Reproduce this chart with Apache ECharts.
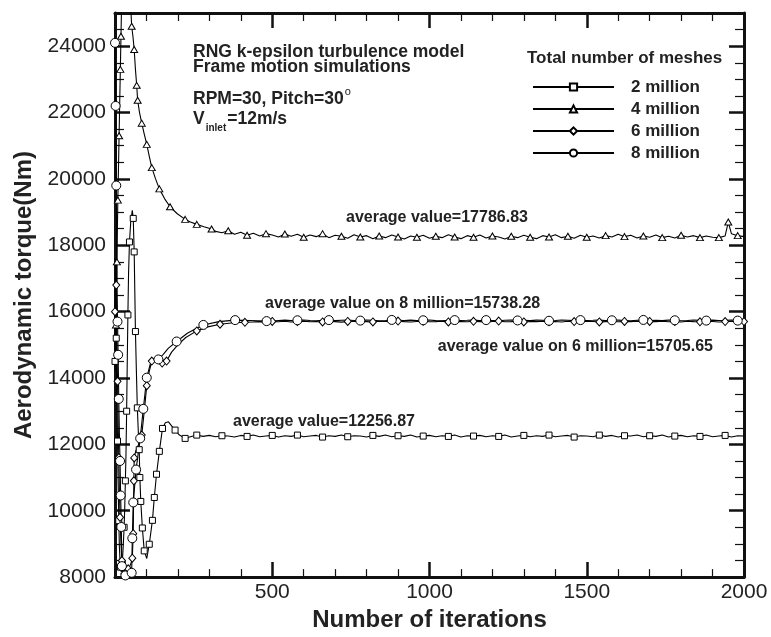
<!DOCTYPE html>
<html><head><meta charset="utf-8">
<script src="https://cdn.jsdelivr.net/npm/echarts@6/dist/echarts.min.js"></script>
<style>html,body{margin:0;padding:0;background:#fff}#c{width:771px;height:637px}</style>
</head><body><div id="c"></div>
<script>
const FONT = '"Liberation Sans", Arial, Helvetica, sans-serif';

// ---- data: [iteration, torque (Nm)] ----
const mesh2M = [
[0,14500],[2,16200],[4,15200],[6,13600],[8,12100],[10,10800],[12,9700],[14,8900],[17,8300],[20,8150],[23,8400],[26,8900],[29,9500],[31,10100],[33,10900],[35,11740],[37,13000],[39,14500],[41,15900],[43,17100],[46,18100],[50,18700],[55,19050],[58,18810],[61,17800],[63,16600],[65,15400],[68,14200],[71,13100],[74,12400],[77,11840],[79,11000],[82,10280],[87,9480],[93,8790],[101,8560],[109,8990],[119,9710],[125,10400],[132,11100],[141,11790],[151,12480],[160,12650],[170,12680],[180,12560],[191,12430],[205,12280],[223,12180],[240,12230],[260,12280],
[280,12240],[300,12270],[320,12230],[340,12260],[360,12250],[380,12220],[400,12270],[420,12240],[440,12280],[460,12230],[480,12250],[500,12270],[520,12220],[540,12260],[560,12240],[580,12280],[600,12230],[620,12250],[640,12270],[660,12220],[680,12260],[700,12240],[720,12280],[740,12230],[760,12260],[780,12250],[800,12220],[820,12270],[840,12240],[860,12280],[880,12230],[900,12260],[920,12240],[940,12280],[960,12220],[980,12250],[1000,12270],[1020,12230],[1040,12260],[1060,12240],[1080,12280],[1100,12220],[1120,12260],[1140,12250],[1160,12270],[1180,12230],[1200,12260],[1220,12240],[1240,12280],[1260,12220],[1280,12250],[1300,12270],[1320,12230],[1340,12260],[1360,12240],[1380,12280],[1400,12230],[1420,12250],[1440,12270],[1460,12220],[1480,12260],[1500,12250],[1520,12230],[1540,12280],[1560,12240],[1580,12270],[1600,12220],[1620,12260],[1640,12250],[1660,12280],[1680,12230],[1700,12260],[1720,12240],[1740,12280],[1760,12220],[1780,12250],[1800,12270],[1820,12230],[1840,12260],[1860,12240],[1880,12280],[1900,12230],[1920,12250],[1940,12270],[1960,12220],[1980,12260],[2000,12250]
];
const marks2M = [0,4,8,12,17,23,29,33,37,41,46,58,61,65,71,77,79,82,87,93,109,119,125,132,141,151,191,223,260,340,420,500,580,660,740,820,900,980,1060,1140,1220,1300,1380,1460,1540,1620,1700,1780,1860,1940];

const mesh4M = [
[0,14200],[3,15600],[6,17500],[9,19360],[11,20300],[13,21300],[15,22300],[17,23300],[19,24300],[21,25300],[24,26800],[30,28000],[38,27600],[45,26200],[50,25200],[53,24600],[57,24300],[61,23900],[65,23300],[69,22820],[72,22370],[78,22000],[85,21680],[93,21350],[101,21040],[109,20680],[117,20340],[129,20000],[141,19700],[158,19400],[175,19160],[198,18950],[223,18780],[240,18700],[260,18630],[283,18560],[307,18490],
[320,18420],[340,18380],[360,18440],[380,18330],[400,18390],[420,18300],[440,18360],[460,18280],[480,18350],[500,18310],[520,18250],[540,18340],[560,18270],[580,18330],[600,18240],[620,18310],[640,18260],[660,18350],[680,18230],[700,18300],[720,18270],[740,18210],[760,18320],[780,18250],[800,18290],[820,18200],[840,18280],[860,18230],[880,18310],[900,18250],[920,18190],[940,18280],[960,18240],[980,18300],[1000,18210],[1020,18270],[1040,18230],[1060,18320],[1080,18250],[1100,18200],[1120,18290],[1140,18240],[1160,18310],[1180,18220],[1200,18280],[1220,18250],[1240,18190],[1260,18270],[1280,18230],[1300,18300],[1320,18240],[1340,18200],[1360,18290],[1380,18250],[1400,18320],[1420,18230],[1440,18270],[1460,18210],[1480,18300],[1500,18240],[1520,18280],[1540,18220],[1560,18290],[1580,18250],[1600,18330],[1620,18260],[1640,18300],[1660,18220],[1680,18280],[1700,18240],[1720,18310],[1740,18230],[1760,18270],[1780,18220],[1800,18300],[1820,18250],[1840,18290],[1860,18230],[1880,18280],[1900,18240],[1920,18230],[1940,18280],[1950,18700],[1960,18350],[1980,18290],[2000,18260]
];
const marks4M = [3,6,9,13,17,19,53,61,69,72,85,101,117,141,175,223,260,307,360,420,480,540,600,660,720,780,840,900,960,1020,1080,1140,1200,1260,1320,1380,1440,1500,1560,1620,1680,1740,1800,1860,1920,1950,1980];

const mesh6M = [
[0,16000],[2,17600],[4,16800],[6,15200],[8,13900],[10,12700],[12,11600],[14,10600],[16,9800],[19,9000],[22,8500],[26,8200],[30,8100],[36,8150],[42,8250],[48,8350],[52,8450],[55,8570],[58,9310],[59,10200],[60,10900],[61,11590],[66,11800],[75,12000],[85,12280],[93,13000],[101,13770],[109,14200],[117,14510],[128,14620],[140,14560],[150,14450],[164,14510],[180,14780],[200,15000],[225,15220],[260,15420],[295,15540],[334,15620],[370,15660],[413,15680],
[440,15690],[460,15700],[480,15685],[500,15705],[520,15695],[540,15710],[560,15690],[580,15700],[600,15715],[620,15695],[640,15705],[660,15690],[680,15710],[700,15700],[720,15685],[740,15705],[760,15715],[780,15695],[800,15700],[820,15690],[840,15710],[860,15705],[880,15695],[900,15715],[920,15700],[940,15690],[960,15705],[980,15710],[1000,15695],[1020,15700],[1040,15715],[1060,15690],[1080,15705],[1100,15700],[1120,15695],[1140,15710],[1160,15700],[1180,15690],[1200,15705],[1220,15715],[1240,15695],[1260,15700],[1280,15710],[1300,15690],[1320,15705],[1340,15700],[1360,15715],[1380,15695],[1400,15705],[1420,15690],[1440,15710],[1460,15700],[1480,15695],[1500,15715],[1520,15705],[1540,15690],[1560,15700],[1580,15710],[1600,15695],[1620,15705],[1640,15700],[1660,15715],[1680,15690],[1700,15705],[1720,15700],[1740,15710],[1760,15695],[1780,15705],[1800,15690],[1820,15710],[1840,15700],[1860,15695],[1880,15715],[1900,15705],[1920,15690],[1940,15700],[1960,15710],[1980,15695],[2000,15700]
];
const marks6M = [0,4,8,12,16,22,30,42,55,58,60,61,85,101,117,150,164,260,334,413,500,580,660,740,820,900,980,1060,1140,1220,1300,1380,1460,1540,1620,1700,1780,1860,1940,2000];

const mesh8M = [
[0,24100],[2,22200],[4,19800],[6,17400],[8,15700],[10,14700],[12,13370],[14,12300],[16,11500],[18,10460],[20,9510],[22,8330],[26,8100],[33,8050],[40,8100],[47,8060],[53,8130],[55,9170],[58,10250],[67,11240],[80,12180],[90,13070],[101,14010],[112,14420],[125,14560],[138,14560],[152,14700],[170,14900],[196,15100],[230,15350],[255,15480],[281,15600],[330,15700],[382,15745],[430,15730],[482,15715],
[500,15720],[520,15735],[540,15745],[560,15730],[580,15740],[600,15750],[620,15735],[640,15725],[660,15740],[680,15745],[700,15730],[720,15740],[740,15750],[760,15735],[780,15730],[800,15745],[820,15740],[840,15725],[860,15735],[880,15750],[900,15740],[920,15730],[940,15745],[960,15735],[980,15740],[1000,15750],[1020,15730],[1040,15725],[1060,15740],[1080,15745],[1100,15735],[1120,15740],[1140,15750],[1160,15730],[1180,15745],[1200,15735],[1220,15725],[1240,15740],[1260,15750],[1280,15735],[1300,15740],[1320,15730],[1340,15745],[1360,15740],[1380,15725],[1400,15735],[1420,15750],[1440,15740],[1460,15730],[1480,15745],[1500,15735],[1520,15740],[1540,15750],[1560,15730],[1580,15740],[1600,15745],[1620,15735],[1640,15725],[1660,15740],[1680,15750],[1700,15735],[1720,15740],[1740,15730],[1760,15745],[1780,15740],[1800,15725],[1820,15735],[1840,15750],[1860,15740],[1880,15730],[1900,15745],[1920,15735],[1940,15740],[1960,15750],[1980,15730],[2000,15740]
];
const marks8M = [0,2,4,8,10,12,16,18,20,22,33,53,55,58,67,80,90,101,138,196,281,382,482,580,680,780,880,980,1080,1180,1280,1380,1480,1580,1680,1780,1880,1980];

const seriesNames = ['2 million','4 million','6 million','8 million'];
const xTicks = {min:0, max:2000, interval:500};
const yTicks = {min:8000, max:25000, interval:2000};

// ---- helpers ----
function buildData(points, marks){
  const set = new Set(marks);
  return points.map(p => set.has(p[0]) ? {value:p} : {value:p, symbol:'none'});
}
function mkSeries(name, points, marks, symbol, size){
  return {name, type:'line', data:buildData(points, marks), symbol, symbolSize:size,
    showAllSymbol:true, smooth:false, clip:true,
    lineStyle:{color:'#000', width:1.1},
    itemStyle:{color:'#fff', borderColor:'#000', borderWidth:1},
    emphasis:{disabled:true}, animation:false};
}
const mctx = document.createElement('canvas').getContext('2d');
function tw(text, font){ mctx.font = font; return mctx.measureText(text).width; }
function fnt(size, weight){ return (weight||'bold') + ' ' + size + 'px ' + FONT; }
function txt(text, x, y, size, weight, align){
  return {type:'text', x, y, silent:true, z:100,
    style:{text, font:fnt(size, weight), fill:'#222',
      textAlign:align||'left', align:align||'left', textVerticalAlign:'middle', verticalAlign:'middle'}};
}
const plain = v => String(v);

const axisCommon = {
  axisLine:{show:true, onZero:false, lineStyle:{color:'#111', width:3}},
  axisTick:{show:true, inside:true, length:15, lineStyle:{color:'#111', width:2.5}},
  splitLine:{show:false}, minorSplitLine:{show:false}
};

const f17 = fnt(17.5);
const pitchText = 'RPM=30, Pitch=30';
const wPitch = tw(pitchText, f17);
const wV = tw('V', f17);
const wInlet = tw('inlet', fnt(10));

const graphics = [
  txt('RNG k-epsilon turbulence model', 193, 52, 17.5),
  txt('Frame motion simulations', 193, 67.5, 17.5),
  txt(pitchText, 193, 99, 17.5),
  txt('o', 193 + wPitch + 1, 92, 11, 'normal'),
  txt('V', 193, 119, 17.5),
  txt('inlet', 193 + wV + 1, 128, 10),
  txt('=12m/s', 193 + wV + wInlet + 2, 119, 17.5),
  txt('Total number of meshes', 527, 58.5, 17),
  txt('average value=17786.83', 346, 218, 16),
  txt('average value on 8 million=15738.28', 265, 304, 16),
  txt('average value on 6 million=15705.65', 713, 347, 16, 'bold', 'right'),
  txt('average value=12256.87', 233, 422, 16)
];

const chart = echarts.init(document.getElementById('c'), null, {renderer:'canvas'});
chart.setOption({
  backgroundColor:'#fff',
  animation:false,
  grid:{left:115, right:27, top:13, bottom:51, containLabel:false},
  xAxis:[
    Object.assign({type:'value', position:'bottom'}, xTicks, axisCommon, {
      minorTick:{show:true, splitNumber:5, length:8, lineStyle:{color:'#111', width:1.2}},
      axisLabel:{showMinLabel:false, fontSize:21, color:'#222', fontFamily:FONT, margin:5, formatter:plain},
      name:'Number of iterations', nameLocation:'middle', nameGap:25,
      nameTextStyle:{fontSize:24, fontWeight:'bold', color:'#222', fontFamily:FONT}
    }),
    Object.assign({type:'value', position:'top'}, xTicks, axisCommon, {
      minorTick:{show:true, splitNumber:5, length:8, lineStyle:{color:'#111', width:1.2}},
      axisLabel:{show:false}
    })
  ],
  yAxis:[
    Object.assign({type:'value', position:'left'}, yTicks, axisCommon, {
      minorTick:{show:true, splitNumber:4, length:9, lineStyle:{color:'#111', width:1.2}},
      axisLabel:{showMaxLabel:false, fontSize:21, color:'#222', fontFamily:FONT, margin:9, formatter:plain},
      name:'Aerodynamic torque(Nm)', nameLocation:'middle', nameGap:73,
      nameTextStyle:{fontSize:24, fontWeight:'bold', color:'#222', fontFamily:FONT}
    }),
    Object.assign({type:'value', position:'right'}, yTicks, axisCommon, {
      minorTick:{show:true, splitNumber:4, length:9, lineStyle:{color:'#111', width:1.2}},
      axisLabel:{show:false}
    })
  ],
  legend:{
    orient:'vertical', left:532, top:78, padding:0, itemWidth:81, itemHeight:9, itemGap:4,
    selectedMode:false, data:seriesNames,
    textStyle:{fontSize:17, fontWeight:'bold', color:'#222', fontFamily:FONT, lineHeight:18, padding:[0,0,0,12]}
  },
  series:[
    mkSeries(seriesNames[0], mesh2M, marks2M, 'rect', 6),
    mkSeries(seriesNames[1], mesh4M, marks4M, 'triangle', [7,6]),
    mkSeries(seriesNames[2], mesh6M, marks6M, 'diamond', [7,8]),
    mkSeries(seriesNames[3], mesh8M, marks8M, 'circle', 9)
  ],
  graphic:graphics
});
</script>
</body></html>
